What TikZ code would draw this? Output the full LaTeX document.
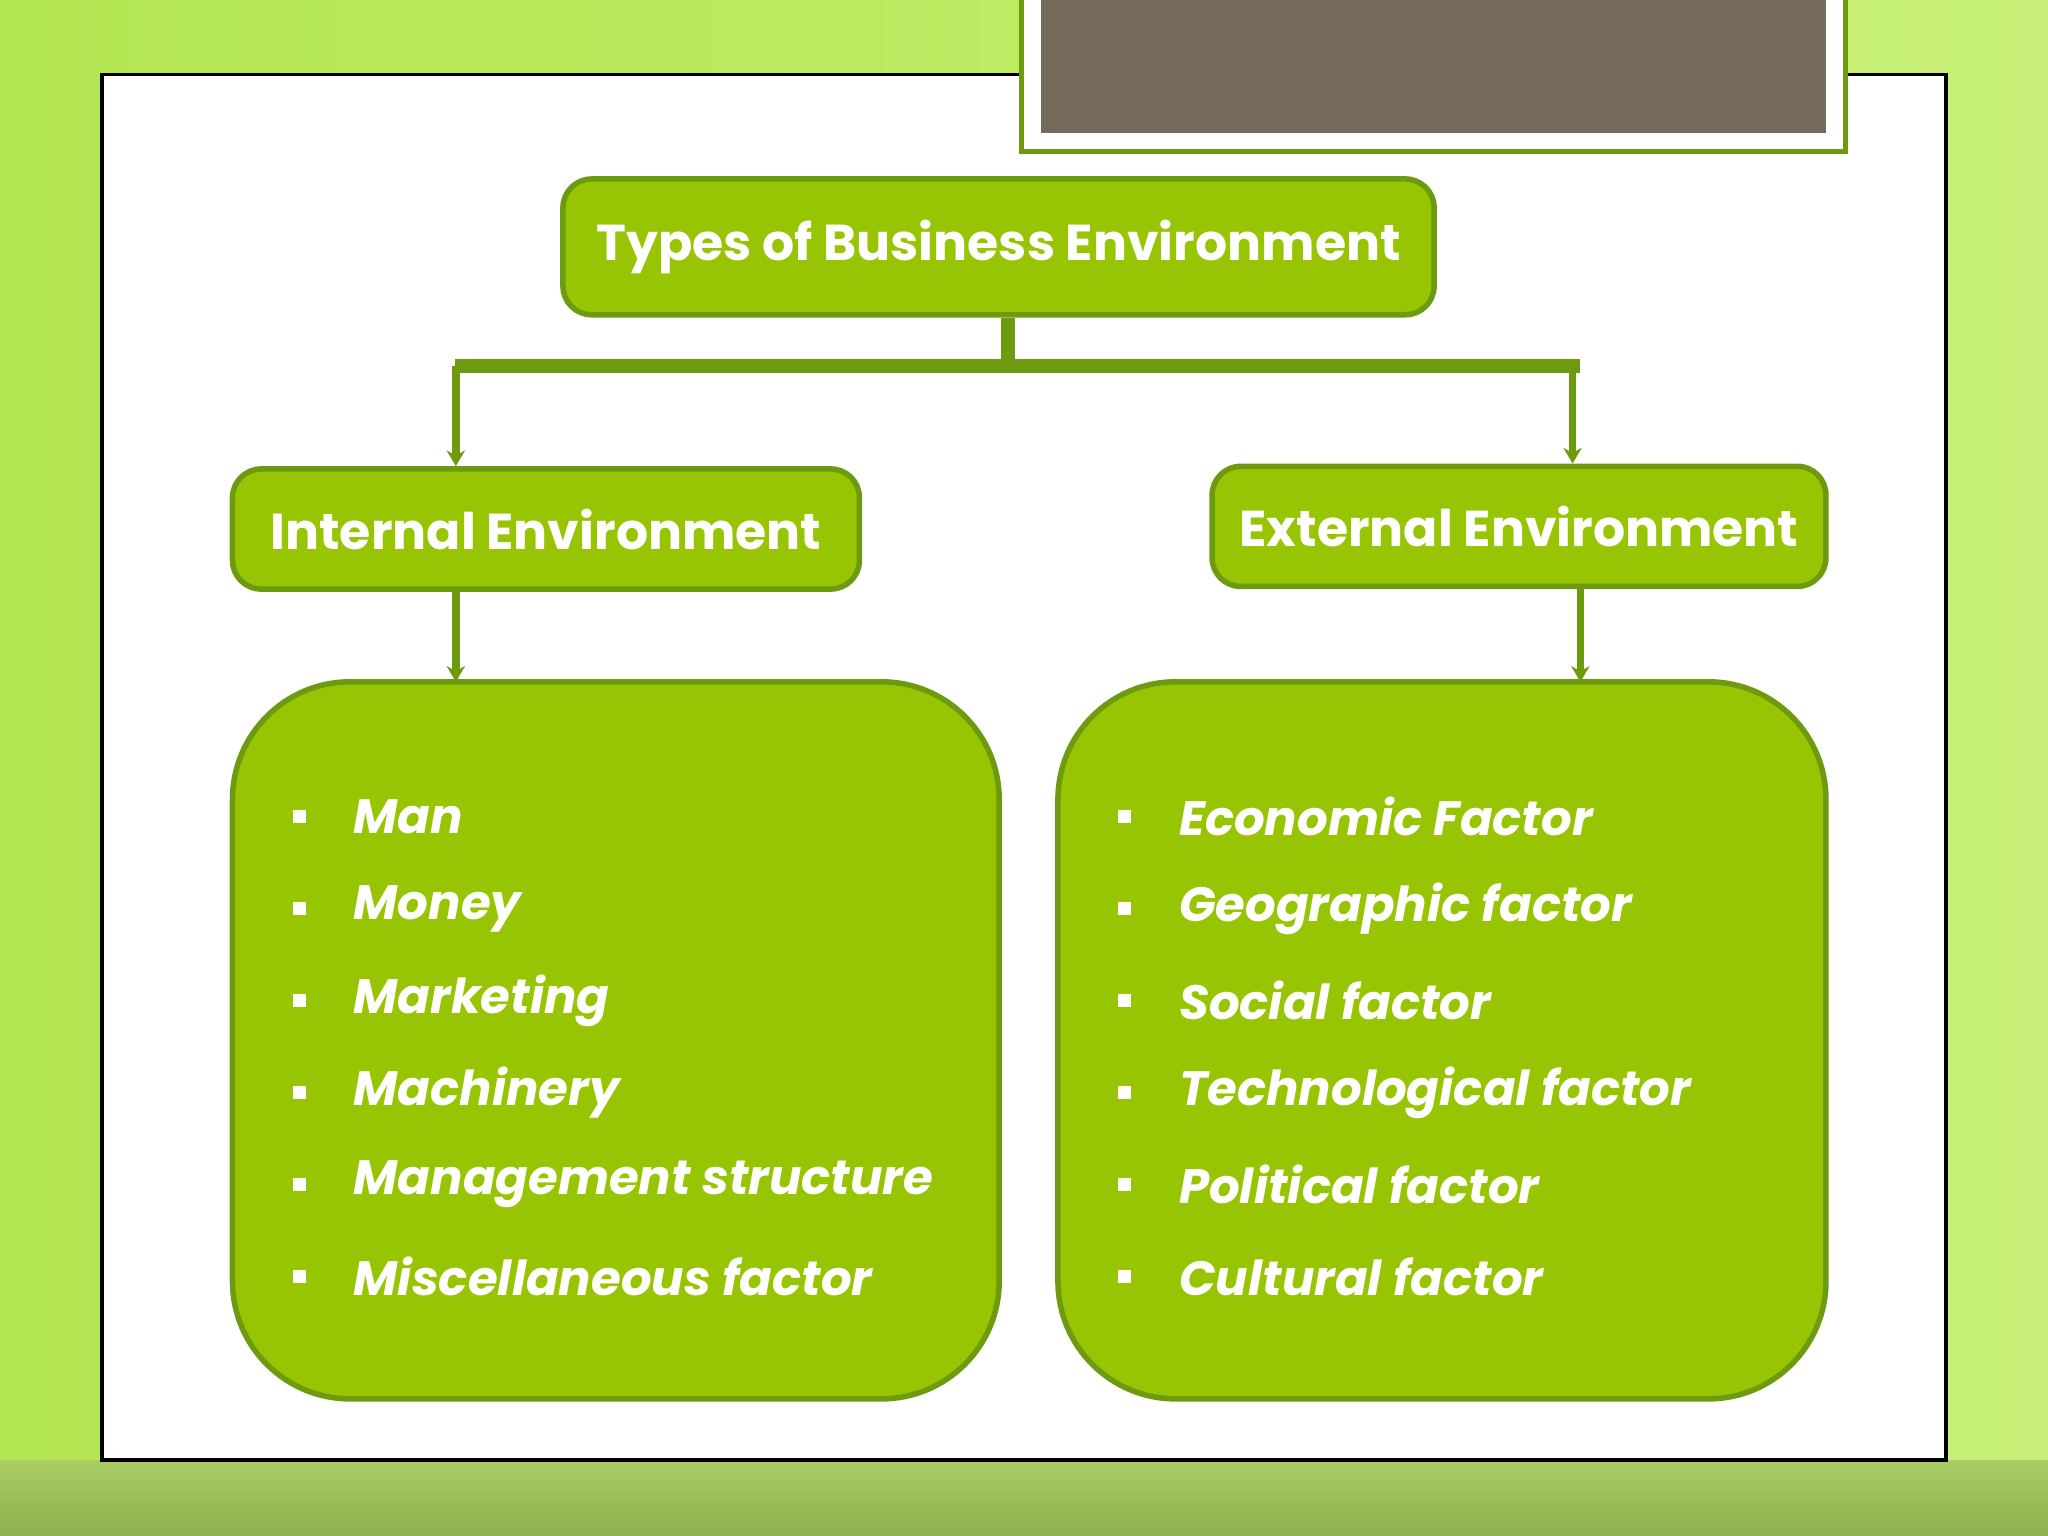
\documentclass[tikz,border=0pt]{standalone}
\usepackage{fontspec}
\setmainfont{Poppins}
\usetikzlibrary{positioning,arrows.meta}
\definecolor{leaf}{HTML}{97C403}
\definecolor{leafline}{HTML}{6E9A10}
\definecolor{slate}{HTML}{756A5B}
\tikzset{
  headbox/.style={draw=leafline, line width=1.2pt, fill=leaf, rounded corners=2.2mm, text=white, font=\bfseries\fontsize{11}{13}\selectfont},
  listbox/.style={draw=leafline, line width=1.2pt, fill=leaf, rounded corners=9mm},
  item/.style={anchor=west, text=white, font=\bfseries\itshape\fontsize{10.5}{12}\selectfont, inner sep=0pt},
  dot/.style={fill=white, minimum size=1mm, inner sep=0pt},
  link/.style={draw=leafline, line width=1.6pt, -{Stealth[length=1.2mm,width=1.4mm]}}
}
\begin{document}
\begin{tikzpicture}[x=0.1mm,y=-0.1mm]
\useasboundingbox (0,0) rectangle (1568,1176);
\shade[left color={rgb,255:red,178;green,230;blue,80}, right color={rgb,255:red,200;green,240;blue,120}] (0,0) rectangle (1568,1176);
\shade[top color={rgb,255:red,170;green,205;blue,100}, bottom color={rgb,255:red,140;green,175;blue,80}] (0,1118) rectangle (1568,1176);
\draw[fill=white, line width=0.8pt] (78,57) rectangle (1490,1118);
\draw[fill=white, draw=leafline, line width=1pt] (782,-5) rectangle (1413,116);
\fill[slate] (797,-5) rectangle (1398,102);
% boxes
\node[headbox, minimum width=66.7mm, minimum height=10.4mm] (types) at (764.5,189) {Types of Business Environment};
\node[headbox, minimum width=48mm, minimum height=9.2mm] (internal) at (418,405) {Internal Environment};
\node[headbox, minimum width=47mm, minimum height=9.2mm] (external) at (1163,403) {External Environment};
\node[listbox, minimum width=58.7mm, minimum height=54.9mm] (intlist) at (471.5,796.5) {};
\node[listbox, minimum width=58.8mm, minimum height=54.9mm] (extlist) at (1104,796.5) {};
% connectors
\coordinate (split) at (772,280);
\coordinate (splitL) at (349,280);
\coordinate (splitR) at (1204,280);
\draw[draw=leafline, line width=3pt] (types.south -| split) -- (split);
\draw[draw=leafline, line width=3pt] (348,280) -- (1210,280);
\draw[link] (splitL) -- (splitL |- internal.north);
\draw[link] (splitR) -- (splitR |- external.north);
\draw[link] (349,451) -- (349,522);
\draw[link] (1210,449) -- (1210,522);
% items
\foreach \t [count=\i] in {Man,Money,Marketing,Machinery,Management structure,Miscellaneous factor}{
  \node[dot] (intdot\i) at (229,555+70.4*\i) {};
  \node[item] (int\i) at (270,555+70.4*\i) {\t};
}
\foreach \t [count=\i] in {Economic Factor,Geographic factor,Social factor,Technological factor,Political factor,Cultural factor}{
  \node[dot] (extdot\i) at (861,555+70.4*\i) {};
  \node[item] (ext\i) at (902,555+70.4*\i) {\t};
}
\end{tikzpicture}
\end{document}
